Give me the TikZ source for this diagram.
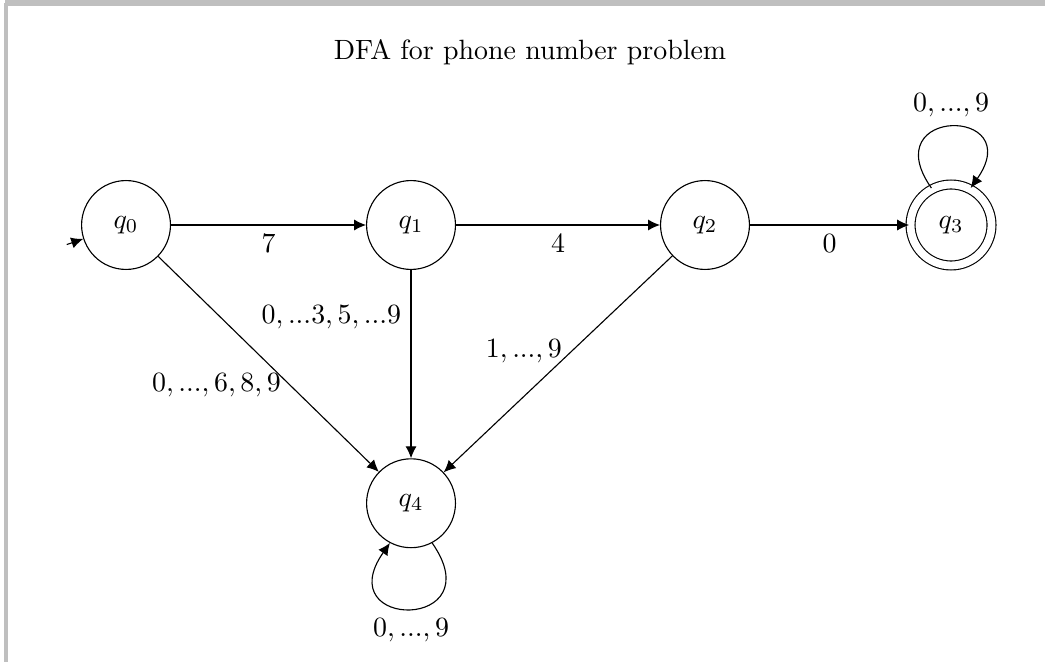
\documentclass[tikz,border=0pt]{standalone}
\usepackage{amsmath,amssymb}
\usetikzlibrary{arrows.meta, automata, positioning}

\begin{document}
\begin{tikzpicture}[>={Latex[length=4.3pt, width=4pt]},
      st/.style={state, minimum size=1.12cm, inner sep=0pt},
      acc/.style={st, accepting, minimum size=1.02cm, double distance=2.8pt},
      lp/.style={looseness=6.5},
      frm/.style={fill=black!25, draw=none}]

    % ---- Layout ----
    \def\W{13.167}   % page width
    \def\H{8.341}    % page height
    \def\ry{5.506}   % top row y
    \useasboundingbox (0,0) rectangle (\W,\H);

    % ---- Frame ----
    \fill[frm] (0.063,\H-0.075) rectangle (\W,\H);
    \fill[frm] (0.05,0) rectangle (0.10,\H-0.038);

    % ---- Title ----
    \node (title) at (6.678,7.686) {DFA for phone number problem};

    % ---- States ----
    \node[st]  (q0) at (1.588,\ry)  {$q_0$};
    \node[st]  (q1) at (5.179,\ry)  {$q_1$};
    \node[st]  (q2) at (8.883,\ry)  {$q_2$};
    \node[acc] (q3) at (11.983,\ry) {$q_3$};
    \node[st]  (q4) at (5.179,2.0) {$q_4$};

    % ---- start arrow ----
    \coordinate (q0start) at ([shift={(199:0.22)}]q0.198);
    \draw[->] (q0start) -- (q0.198);

    % ---- Transitions ----
    \path[->] (q0) edge node[left, pos=0.6] {$0, ..., 6, 8, 9$} (q4)
              (q0) edge node[below] {$7$} (q1)
              (q1) edge node[below] {$4$} (q2)
              (q2) edge node[below] {$0$} (q3)
              (q1) edge node[left, pos=0.25] {$0, ...3, 5, ...9$} (q4)
              (q2) edge node[left, pos=0.44] {$1, ..., 9$} (q4);

    % ---- self loops ----
    \path[->] (q3.118) edge[out=125, in=55, lp] node[above] {$0, ..., 9$} (q3.62)
              (q4.-62) edge[out=-55, in=-125, lp] node[below] {$0, ..., 9$} (q4.-118);
\end{tikzpicture}
\end{document}
